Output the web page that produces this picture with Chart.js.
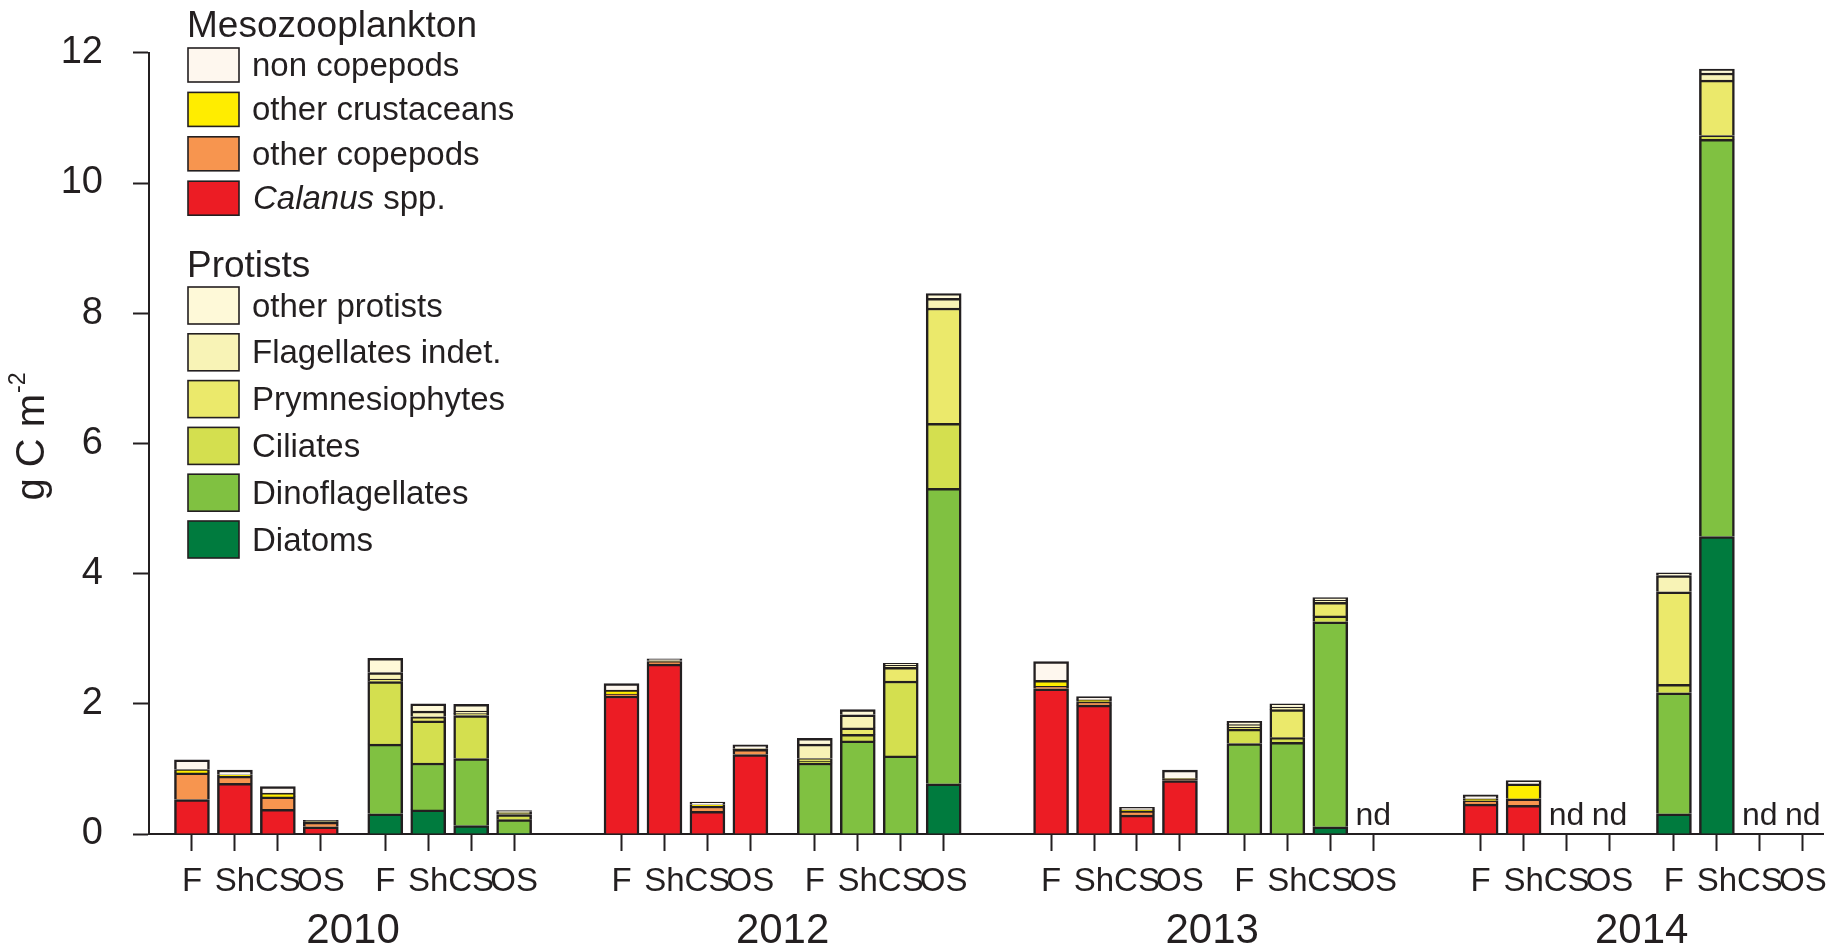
<!DOCTYPE html>
<html><head><meta charset="utf-8">
<script src="https://cdn.jsdelivr.net/npm/chart.js@4.4.1/dist/chart.umd.min.js"></script>
<style>html,body{margin:0;padding:0;background:#fff}#wrap{width:1838px;height:950px;position:relative}</style>
</head><body><div id="wrap"><canvas id="c"></canvas></div>
<script>
// ---------- data ----------
const years = ['2010', '2012', '2013', '2014'];
const sites = ['F', 'Sh', 'CS', 'OS'];
// each array: 4 years x 4 sites (F, Sh, CS, OS); null = nd (no data)
// Mesozooplankton (stack bottom -> top)
const calanus          = [0.53, 0.78, 0.38, 0.11,  2.12, 2.61, 0.35, 1.22,  2.23, 1.98, 0.29, 0.82,  0.46, 0.44, null, null];
const otherCopepods    = [0.41, 0.11, 0.19, 0.07,  0.03, 0.04, 0.08, 0.08,  0.04, 0.05, 0.06, 0.02,  0.05, 0.10, null, null];
const otherCrustaceans = [0.05, 0.02, 0.06, 0.01,  0.06, 0.01, 0.02, 0.01,  0.09, 0.03, 0.02, 0.01,  0.03, 0.23, null, null];
const nonCopepods      = [0.15, 0.07, 0.10, 0.02,  0.10, 0.03, 0.04, 0.06,  0.29, 0.05, 0.04, 0.13,  0.06, 0.05, null, null];
// Protists (stack bottom -> top)
const diatoms          = [0.31, 0.37, 0.13, 0.01,  0.00, 0.00, 0.01, 0.77,  0.00, 0.00, 0.11, null,  0.31, 4.57, null, null];
const dinoflagellates  = [1.07, 0.72, 1.03, 0.21,  1.09, 1.43, 1.19, 4.54,  1.39, 1.41, 3.15, null,  1.86, 6.10, null, null];
const ciliates         = [0.96, 0.65, 0.66, 0.08,  0.03, 0.10, 1.15, 1.00,  0.22, 0.07, 0.09, null,  0.13, 0.06, null, null];
const prymnesiophytes  = [0.04, 0.06, 0.03, 0.02,  0.04, 0.10, 0.21, 1.77,  0.03, 0.43, 0.21, null,  1.42, 0.85, null, null];
const flagellates      = [0.10, 0.09, 0.04, 0.02,  0.22, 0.20, 0.03, 0.15,  0.04, 0.04, 0.03, null,  0.25, 0.11, null, null];
const otherProtists    = [0.22, 0.11, 0.10, 0.02,  0.09, 0.08, 0.03, 0.07,  0.05, 0.05, 0.04, null,  0.04, 0.06, null, null];
const yTicks = [0, 2, 4, 6, 8, 10, 12];

// ---------- style / layout ----------
const FONT = '"Liberation Sans", Arial, Helvetica, sans-serif';
const INK = '#231F20';
// position on the linear x scale: year block = 10 slots, protist group offset 4.5
function pos(yi, gi, si) { return yi * 10 + gi * 4.5 + si; }

const series = [
  { label: 'Calanus spp.',        data: calanus,          color: '#EC1C24', group: 0 },
  { label: 'other copepods',      data: otherCopepods,    color: '#F7954F', group: 0 },
  { label: 'other crustaceans',   data: otherCrustaceans, color: '#FFED00', group: 0 },
  { label: 'non copepods',        data: nonCopepods,      color: '#FEF7EE', group: 0 },
  { label: 'Diatoms',             data: diatoms,          color: '#007B3E', group: 1 },
  { label: 'Dinoflagellates',     data: dinoflagellates,  color: '#80C141', group: 1 },
  { label: 'Ciliates',            data: ciliates,         color: '#D4DF4F', group: 1 },
  { label: 'Prymnesiophytes',     data: prymnesiophytes,  color: '#EBE96B', group: 1 },
  { label: 'Flagellates indet.',  data: flagellates,      color: '#F8F3B6', group: 1 },
  { label: 'other protists',      data: otherProtists,    color: '#FEF9D8', group: 1 }
];

const datasets = series.map(s => {
  const pts = [];
  s.data.forEach((v, i) => {
    if (v === null) return;
    const yi = Math.floor(i / 4), si = i % 4;
    pts.push({ x: pos(yi, s.group, si), y: v });
  });
  return {
    label: s.label, data: pts, backgroundColor: s.color,
    borderColor: INK, borderWidth: 2.5, borderSkipped: 'start', barThickness: 35
  };
});

const xTickVals = [];
const xTickLabels = [];
years.forEach((y, yi) => [0, 1].forEach(gi => sites.forEach((s, si) => {
  xTickVals.push(pos(yi, gi, si)); xTickLabels.push(s);
})));
const yearVals = years.map((y, yi) => yi * 10 + 3.75);

const X_MIN = -1, X_MAX = 37.97;

const extras = {
  id: 'extras',
  afterDraw(chart) {
    const ctx = chart.ctx;
    const xs = chart.scales.x;
    ctx.save();
    ctx.fillStyle = INK;
    // nd labels
    ctx.font = '32px ' + FONT; ctx.textAlign = 'center'; ctx.textBaseline = 'alphabetic';
    years.forEach((y, yi) => sites.forEach((s, si) => {
      if (calanus[yi * 4 + si] === null) ctx.fillText('nd', xs.getPixelForValue(pos(yi, 0, si)), 825);
      if (diatoms[yi * 4 + si] === null) ctx.fillText('nd', xs.getPixelForValue(pos(yi, 1, si)), 825);
    }));
    // y title (rotated)
    ctx.save();
    ctx.translate(44, 437);
    ctx.rotate(-Math.PI / 2);
    ctx.textAlign = 'left';
    ctx.font = '40px ' + FONT;
    const main = 'g C m';
    const w1 = ctx.measureText(main).width;
    ctx.font = '23px ' + FONT;
    const w2 = ctx.measureText('-2').width;
    const start = -(w1 + w2) / 2;
    ctx.font = '40px ' + FONT;
    ctx.fillText(main, start, 0);
    ctx.font = '23px ' + FONT;
    ctx.fillText('-2', start + w1 + 1, -19);
    ctx.restore();
    // legend
    const byLabel = {};
    series.forEach(s => byLabel[s.label] = s.color);
    ctx.textAlign = 'left'; ctx.textBaseline = 'alphabetic';
    ctx.font = '37px ' + FONT;
    ctx.fillText('Mesozooplankton', 187, 37);
    ctx.fillText('Protists', 187, 277);
    const drawRow = (label, top, h) => {
      ctx.fillStyle = byLabel[label];
      ctx.fillRect(188, top, 51, h);
      ctx.strokeStyle = INK; ctx.lineWidth = 1.6;
      ctx.strokeRect(188, top, 51, h);
      ctx.fillStyle = INK;
      const base = top + h / 2 + 11;
      if (label === 'Calanus spp.') {
        ctx.font = 'italic 33px ' + FONT;
        ctx.fillText('Calanus', 253, base);
        const w = ctx.measureText('Calanus ').width;
        ctx.font = '33px ' + FONT;
        ctx.fillText('spp.', 253 + w, base);
      } else {
        ctx.font = '33px ' + FONT;
        ctx.fillText(label, 252, base);
      }
    };
    ['non copepods', 'other crustaceans', 'other copepods', 'Calanus spp.'].forEach((l, i) => drawRow(l, 48 + i * 44.4, 34));
    ['other protists', 'Flagellates indet.', 'Prymnesiophytes', 'Ciliates', 'Dinoflagellates', 'Diatoms'].forEach((l, i) => drawRow(l, 287 + i * 46.8, 37));
    ctx.restore();
  }
};

new Chart(document.getElementById('c'), {
  type: 'bar',
  data: { datasets },
  plugins: [extras],
  options: {
    responsive: true, maintainAspectRatio: false, animation: false, devicePixelRatio: 1,
    layout: { padding: { left: 0, right: 15, top: 45, bottom: 0 } },
    plugins: { legend: { display: false }, tooltip: { enabled: false } },
    scales: {
      x: {
        type: 'linear', min: X_MIN, max: X_MAX, stacked: true, position: 'bottom', weight: 0, offset: false,
        afterBuildTicks: s => { s.ticks = xTickVals.map(v => ({ value: v })); },
        afterFit: s => { s.height = 72; },
        ticks: {
          autoSkip: false, maxRotation: 0, minRotation: 0, padding: 11, color: INK,
          font: { family: FONT, size: 33 },
          callback: (v, i) => xTickLabels[i]
        },
        grid: { offset: false, drawOnChartArea: false, drawTicks: true, tickLength: 17, tickWidth: 2, tickColor: INK },
        border: { display: true, color: INK, width: 2 }
      },
      x2: {
        type: 'linear', min: X_MIN, max: X_MAX, position: 'bottom', weight: 1, offset: false,
        afterBuildTicks: s => { s.ticks = yearVals.map(v => ({ value: v })); },
        afterFit: s => { s.height = 44; },
        ticks: {
          autoSkip: false, maxRotation: 0, minRotation: 0, padding: 0, color: INK,
          font: { family: FONT, size: 42 },
          callback: (v, i) => years[i]
        },
        grid: { display: false, drawTicks: false, offset: false },
        border: { display: false }
      },
      y: {
        type: 'linear', min: 0, max: 12, stacked: true,
        afterBuildTicks: s => { s.ticks = yTicks.map(v => ({ value: v })); },
        afterFit: s => { s.width = 149; },
        ticks: { color: INK, padding: 30, font: { family: FONT, size: 38 } },
        grid: { drawOnChartArea: false, drawTicks: true, tickLength: 16, tickWidth: 2, tickColor: INK },
        border: { display: true, color: INK, width: 2 }
      }
    }
  }
});
</script>
</body></html>
